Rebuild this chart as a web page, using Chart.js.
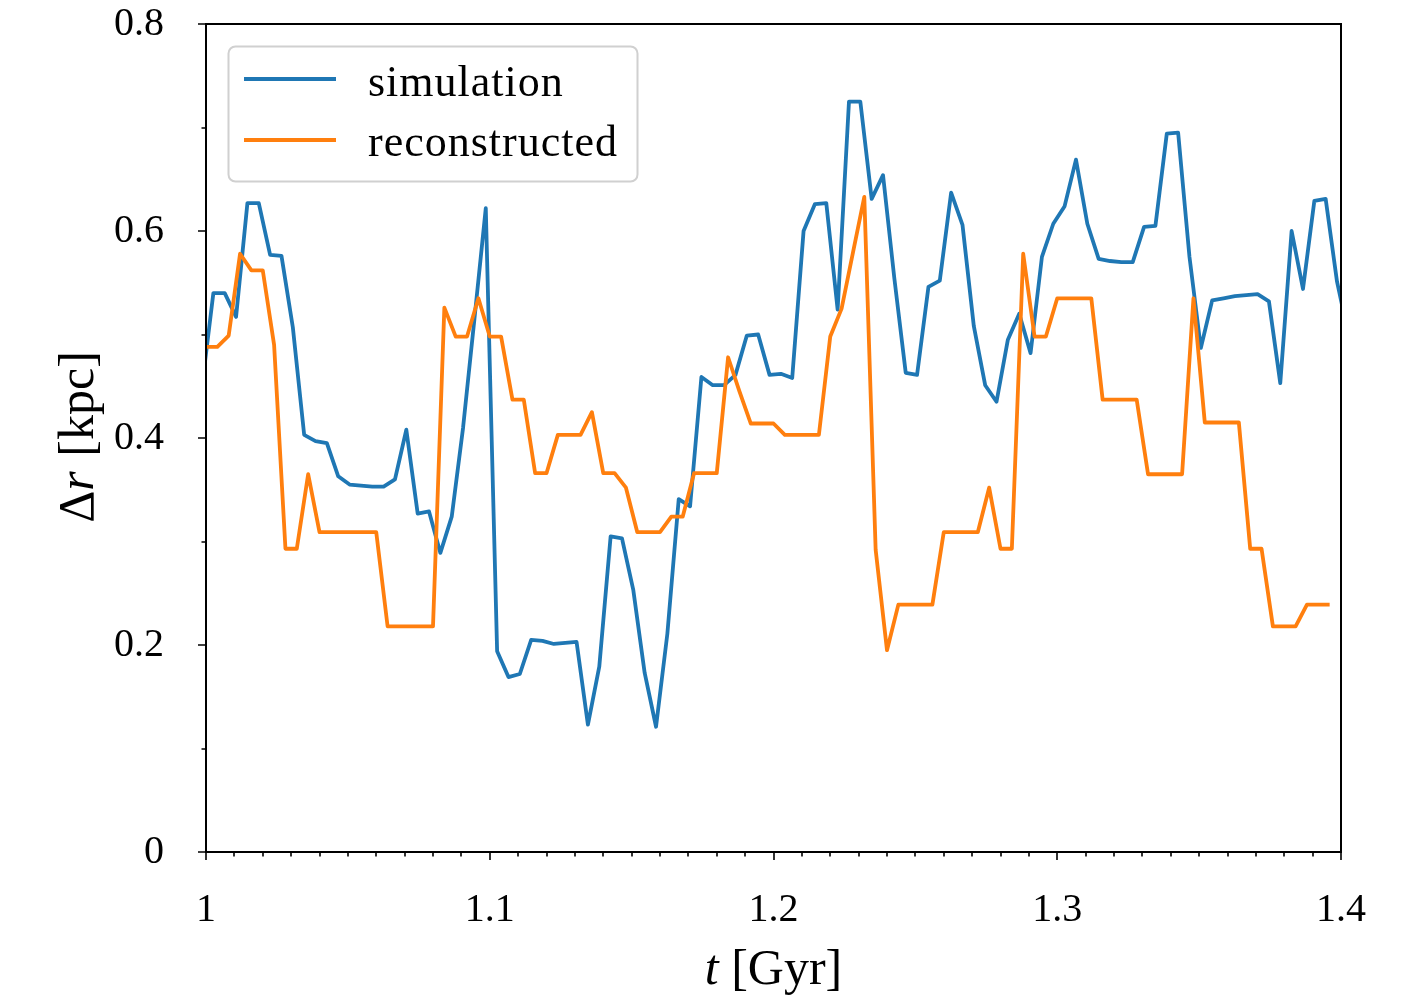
<!DOCTYPE html>
<html>
<head>
<meta charset="utf-8">
<script src="https://cdn.jsdelivr.net/npm/chart.js@4.4.1/dist/chart.umd.min.js"></script>
<style>
  html, body { margin: 0; padding: 0; background: #fff; }
  canvas { display: block; }
</style>
</head>
<body>
<canvas id="myChart" width="1413" height="998"></canvas>
<script>
// time sampling (Gyr) of both curves
var simStart = 0.9986;
var recStart = 1.000;
var dt       = 0.004;

// separation Delta r (kpc)
var simulation = [
    0.450, 0.540, 0.540, 0.517, 0.627, 0.627, 0.577, 0.576, 0.507, 0.403,
    0.397, 0.395, 0.363, 0.355, 0.354, 0.353, 0.353, 0.360, 0.408, 0.327,
    0.329, 0.289, 0.324, 0.410, 0.515, 0.622, 0.194, 0.169, 0.172, 0.205,
    0.204, 0.201, 0.202, 0.203, 0.123, 0.179, 0.305, 0.303, 0.253, 0.173,
    0.121, 0.211, 0.341, 0.334, 0.459, 0.451, 0.451, 0.461, 0.499, 0.500,
    0.461, 0.462, 0.458, 0.600, 0.626, 0.627, 0.524, 0.725, 0.725, 0.631,
    0.654, 0.554, 0.463, 0.461, 0.546, 0.552, 0.637, 0.606, 0.508, 0.451,
    0.435, 0.495, 0.520, 0.482, 0.575, 0.607, 0.624, 0.669, 0.607, 0.573,
    0.571, 0.570, 0.570, 0.604, 0.605, 0.694, 0.695, 0.575, 0.487, 0.533,
    0.535, 0.537, 0.538, 0.539, 0.532, 0.453, 0.600, 0.544, 0.629, 0.631,
    0.551, 0.500
];
var reconstructed = [
    0.488, 0.488, 0.499, 0.578, 0.562, 0.562, 0.490, 0.293, 0.293, 0.365,
    0.309, 0.309, 0.309, 0.309, 0.309, 0.309, 0.218, 0.218, 0.218, 0.218,
    0.218, 0.526, 0.498, 0.498, 0.535, 0.498, 0.498, 0.437, 0.437, 0.366,
    0.366, 0.403, 0.403, 0.403, 0.425, 0.366, 0.366, 0.352, 0.309, 0.309,
    0.309, 0.324, 0.324, 0.366, 0.366, 0.366, 0.478, 0.445, 0.414, 0.414,
    0.414, 0.403, 0.403, 0.403, 0.403, 0.498, 0.525, 0.579, 0.633, 0.292,
    0.195, 0.239, 0.239, 0.239, 0.239, 0.309, 0.309, 0.309, 0.309, 0.352,
    0.293, 0.293, 0.578, 0.498, 0.498, 0.535, 0.535, 0.535, 0.535, 0.437,
    0.437, 0.437, 0.437, 0.365, 0.365, 0.365, 0.365, 0.535, 0.415, 0.415,
    0.415, 0.415, 0.293, 0.293, 0.218, 0.218, 0.218, 0.239, 0.239, 0.239
];

var xTicks = [1.0, 1.1, 1.2, 1.3, 1.4];
var yTicks = [0, 0.2, 0.4, 0.6, 0.8];

var seriesNames = ['simulation', 'reconstructed'];

function toPoints(start, values) {
    return values.map(function(v, i) {
        return { x: +(start + i * dt).toFixed(4), y: v };
    });
}

var serif = "'Liberation Serif', 'Times New Roman', serif";

// frame, major/minor ticks, axis titles and legend
var decorations = {
    id: 'decorations',
    afterDatasetsDraw: function(chart) {
        var ctx = chart.ctx;
        var a = chart.chartArea;
        var xs = chart.scales.x, ys = chart.scales.y;
        ctx.save();

        ctx.strokeStyle = '#000';
        ctx.lineWidth = 1.6;
        ctx.beginPath();
        for (var i = 0; i <= 40; i++) {
            var t = 1 + i * 0.01;
            var px = Math.round(xs.getPixelForValue(t));
            var len = (i % 10 === 0) ? 8 : 4.5;
            ctx.moveTo(px, a.bottom);
            ctx.lineTo(px, a.bottom + len);
        }
        for (var j = 0; j <= 8; j++) {
            var py = Math.round(ys.getPixelForValue(j * 0.1));
            var l = (j % 2 === 0) ? 8 : 4.5;
            ctx.moveTo(a.left, py);
            ctx.lineTo(a.left - l, py);
        }
        ctx.stroke();

        ctx.lineWidth = 2;
        ctx.strokeRect(a.left, a.top, a.right - a.left, a.bottom - a.top);

        // x title: t [Gyr]
        ctx.fillStyle = '#000';
        ctx.textBaseline = 'alphabetic';
        var fItal = 'italic 50px ' + serif;
        var fReg = '50px ' + serif;
        ctx.font = fItal;
        var w1 = ctx.measureText('t').width;
        ctx.font = fReg;
        var w2 = ctx.measureText(' [Gyr]').width;
        var cx = (a.left + a.right) / 2;
        var x0 = cx - (w1 + w2) / 2;
        ctx.font = fItal;
        ctx.fillText('t', x0, 984);
        ctx.font = fReg;
        ctx.fillText(' [Gyr]', x0 + w1, 984);

        // y title: Delta r [kpc]
        ctx.save();
        ctx.translate(93, (a.top + a.bottom) / 2);
        ctx.rotate(-Math.PI / 2);
        ctx.font = fReg;
        var d1 = ctx.measureText('\u0394').width;
        ctx.font = fItal;
        var d2 = ctx.measureText('r').width;
        ctx.font = fReg;
        var d3 = ctx.measureText(' [kpc]').width;
        var y0 = -(d1 + d2 + d3) / 2;
        ctx.fillText('\u0394', y0, 0);
        ctx.font = fItal;
        ctx.fillText('r', y0 + d1, 0);
        ctx.font = fReg;
        ctx.fillText(' [kpc]', y0 + d1 + d2 + 2, 0);
        ctx.restore();

        // legend
        var bx = 228.5, by = 46.5, bw = 409, bh = 135, r = 7;
        ctx.beginPath();
        ctx.moveTo(bx + r, by);
        ctx.arcTo(bx + bw, by, bx + bw, by + bh, r);
        ctx.arcTo(bx + bw, by + bh, bx, by + bh, r);
        ctx.arcTo(bx, by + bh, bx, by, r);
        ctx.arcTo(bx, by, bx + bw, by, r);
        ctx.closePath();
        ctx.fillStyle = 'rgba(255,255,255,0.8)';
        ctx.fill();
        ctx.strokeStyle = '#d0d0d0';
        ctx.lineWidth = 2;
        ctx.stroke();

        var rows = [79, 140];
        var bases = [96, 156];
        chart.data.datasets.forEach(function(ds, k) {
            ctx.strokeStyle = ds.borderColor;
            ctx.lineWidth = 3.8;
            ctx.beginPath();
            ctx.moveTo(244, rows[k]);
            ctx.lineTo(336, rows[k]);
            ctx.stroke();
            ctx.fillStyle = '#000';
            ctx.font = '44px ' + serif;
            ctx.letterSpacing = '1px';
            ctx.fillText(ds.label, 368, bases[k]);
            ctx.letterSpacing = '0px';
        });

        ctx.restore();
    }
};

var canvas  = document.getElementById('myChart');
var context = canvas.getContext('2d');

var myChart = new Chart(context, {
    type: 'line',
    data: {
        datasets: [{
            label: seriesNames[0],
            data: toPoints(simStart, simulation),
            borderColor: '#1f77b4',
            borderWidth: 3.8,
            borderJoinStyle: 'round',
            pointRadius: 0,
            tension: 0,
            order: 1
        }, {
            label: seriesNames[1],
            data: toPoints(recStart, reconstructed),
            borderColor: '#ff7f0e',
            borderWidth: 3.8,
            borderJoinStyle: 'round',
            pointRadius: 0,
            tension: 0,
            order: 0
        }]
    },
    options: {
        responsive: false,
        animation: false,
        devicePixelRatio: 1,
        layout: { padding: { top: 24, right: 72, left: 0, bottom: 0 } },
        plugins: {
            legend: { display: false },
            tooltip: { enabled: false }
        },
        scales: {
            x: {
                type: 'linear',
                min: 1,
                max: 1.4,
                afterFit: function(s) {
                    s.height = 146;
                    s.paddingLeft = 0;
                    s.paddingRight = 0;
                },
                afterBuildTicks: function(s) {
                    s.ticks = xTicks.map(function(v) { return { value: v }; });
                },
                grid: { display: false, drawTicks: false },
                border: { display: false },
                ticks: {
                    autoSkip: false,
                    maxRotation: 0,
                    padding: 34,
                    color: '#000',
                    font: { family: serif, size: 40 },
                    callback: function(v) { return String(+v.toFixed(1)); }
                }
            },
            y: {
                min: 0,
                max: 0.8,
                afterFit: function(s) {
                    s.width = 206;
                    s.paddingTop = 0;
                    s.paddingBottom = 0;
                },
                afterBuildTicks: function(s) {
                    s.ticks = yTicks.map(function(v) { return { value: v }; });
                },
                grid: { display: false, drawTicks: false },
                border: { display: false },
                ticks: {
                    padding: 42,
                    color: '#000',
                    font: { family: serif, size: 40 },
                    callback: function(v) { return String(+v.toFixed(1)); }
                }
            }
        }
    },
    plugins: [decorations]
});
</script>
</body>
</html>
